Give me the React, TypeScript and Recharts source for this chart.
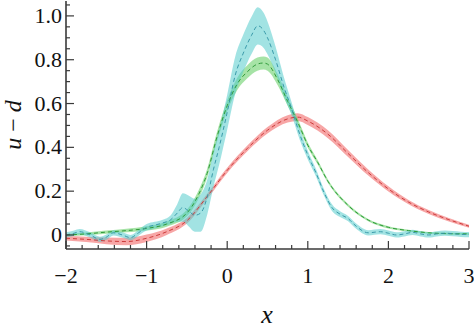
import React from "react";
import { ComposedChart, Area, Line, XAxis, YAxis, Label } from "recharts";

// ---- data ----
const redX = [-2, -1.75, -1.5, -1.25, -1, -0.75, -0.5, -0.25, 0, 0.25, 0.5, 0.75, 0.875, 1, 1.25, 1.5, 1.75, 2, 2.25, 2.5, 2.75, 3];
const redMid = [-0.015, -0.02, -0.027, -0.03, -0.015, 0.015, 0.065, 0.175, 0.295, 0.395, 0.478, 0.53, 0.538, 0.52, 0.46, 0.372, 0.285, 0.21, 0.15, 0.105, 0.07, 0.04];
const redErr = [0.01, 0.012, 0.015, 0.017, 0.017, 0.015, 0.013, 0.012, 0.012, 0.013, 0.015, 0.017, 0.018, 0.018, 0.018, 0.016, 0.014, 0.012, 0.01, 0.009, 0.008, 0.007];

const greenX = [-2, -1.75, -1.5, -1.25, -1, -0.75, -0.5, -0.375, -0.25, -0.125, 0, 0.125, 0.25, 0.375, 0.45, 0.5, 0.625, 0.75, 0.875, 1, 1.125, 1.25, 1.5, 1.75, 2, 2.25, 2.5, 2.75, 3];
const greenMid = [0, 0.005, 0.013, 0.02, 0.03, 0.05, 0.1, 0.17, 0.28, 0.45, 0.59, 0.69, 0.745, 0.78, 0.785, 0.78, 0.71, 0.61, 0.515, 0.41, 0.33, 0.245, 0.135, 0.068, 0.035, 0.02, 0.01, 0.006, 0.005];
const greenErr = [0.005, 0.006, 0.007, 0.008, 0.01, 0.012, 0.015, 0.018, 0.02, 0.022, 0.025, 0.028, 0.03, 0.03, 0.03, 0.03, 0.025, 0.02, 0.015, 0.012, 0.01, 0.008, 0.006, 0.005, 0.005, 0.004, 0.004, 0.004, 0.004];

const cyanX = [-2, -1.9, -1.83, -1.7, -1.58, -1.5, -1.41, -1.3, -1.2, -1.1, -1, -0.9, -0.8, -0.7, -0.62, -0.55, -0.48, -0.4, -0.33, -0.25, -0.17, -0.1, 0, 0.1, 0.2, 0.3, 0.38, 0.45, 0.5, 0.6, 0.7, 0.8, 0.9, 1, 1.1, 1.2, 1.3, 1.4, 1.5, 1.6, 1.75, 1.9, 2, 2.1, 2.2, 2.3, 2.4, 2.5, 2.6, 2.7, 2.8, 2.9, 3];
const cyanMid = [0, 0.008, 0.015, 0, -0.02, -0.01, 0.01, 0, -0.012, 0.01, 0.035, 0.045, 0.055, 0.07, 0.1, 0.125, 0.11, 0.09, 0.1, 0.17, 0.3, 0.4, 0.56, 0.73, 0.83, 0.91, 0.955, 0.935, 0.9, 0.8, 0.68, 0.575, 0.46, 0.365, 0.285, 0.195, 0.125, 0.095, 0.075, 0.04, 0.01, 0.015, 0.008, 0, 0.005, 0.012, 0.005, 0, 0.005, 0.008, 0.006, 0.003, 0.002];
const cyanErr = [0.012, 0.012, 0.012, 0.012, 0.012, 0.012, 0.012, 0.012, 0.012, 0.013, 0.015, 0.015, 0.015, 0.02, 0.04, 0.065, 0.07, 0.075, 0.085, 0.08, 0.08, 0.08, 0.08, 0.085, 0.085, 0.085, 0.085, 0.08, 0.075, 0.06, 0.045, 0.03, 0.025, 0.02, 0.017, 0.015, 0.015, 0.013, 0.012, 0.012, 0.012, 0.012, 0.012, 0.012, 0.012, 0.012, 0.012, 0.012, 0.012, 0.012, 0.012, 0.012, 0.012];

const xMajor = [-2, -1, 0, 1, 2, 3];
const xMinorStep = 0.2;
const yMajor = [0, 0.2, 0.4, 0.6, 0.8, 1.0];
const yMajorLabels = ["0", "0.2", "0.4", "0.6", "0.8", "1.0"];
const yMinorStep = 0.05;

// ---- build tables ----
const build = (xs: number[], mid: number[], err: number[]) =>
  xs.map((x, i) => ({ x, mid: mid[i], band: [mid[i] - err[i], mid[i] + err[i]] }));
const redData = build(redX, redMid, redErr);
const greenData = build(greenX, greenMid, greenErr);
const cyanData = build(cyanX, cyanMid, cyanErr);

const X_DOMAIN = [-2, 3];
const Y_DOMAIN = [-0.064, 1.068];

const round = (v: number) => Math.round(v * 1000) / 1000;
const xTicks: number[] = [];
for (let v = X_DOMAIN[0]; v <= X_DOMAIN[1] + 1e-9; v += xMinorStep) xTicks.push(round(v));
const yTicks: number[] = [];
for (let v = -0.05; v <= 1.05 + 1e-9; v += yMinorStep) yTicks.push(round(v));

const isMajorX = (v: number) => xMajor.some((m) => Math.abs(m - v) < 1e-6);
const majorYIndex = (v: number) => yMajor.findIndex((m) => Math.abs(m - v) < 1e-6);

const FONT = "Liberation Serif";
const AX = "#3a3a3a";
const MAJ = 8;
const MIN = 4;

const fmtX = (v: number) => (v < 0 ? "\u2212" + Math.abs(v) : String(v));

const BottomTick = (p: any) => {
  const v = p.payload.value;
  const maj = isMajorX(v);
  return (
    <g>
      <line x1={p.x} x2={p.x} y1={p.y} y2={p.y - (maj ? MAJ : MIN)} stroke={AX} strokeWidth={1.2} />
      {maj && (
        <text x={p.x} y={p.y + 34} textAnchor="middle" fontFamily={FONT} fontSize={22} fill="#111" style={{ fontFamily: FONT, fontSize: 22 }}>
          {fmtX(v)}
        </text>
      )}
    </g>
  );
};
const TopTick = (p: any) => {
  const v = p.payload.value;
  const maj = isMajorX(v);
  return <line x1={p.x} x2={p.x} y1={p.y} y2={p.y + (maj ? MAJ : MIN)} stroke={AX} strokeWidth={1.2} />;
};
const LeftTick = (p: any) => {
  const v = p.payload.value;
  const idx = majorYIndex(v);
  const maj = idx >= 0;
  return (
    <g>
      <line x1={p.x} x2={p.x + (maj ? MAJ : MIN)} y1={p.y} y2={p.y} stroke={AX} strokeWidth={1.2} />
      {maj && (
        <text x={p.x - 4} y={p.y + 7} textAnchor="end" fontFamily={FONT} fontSize={22} fill="#111" style={{ fontFamily: FONT, fontSize: 22 }}>
          {yMajorLabels[idx]}
        </text>
      )}
    </g>
  );
};
const RightTick = (p: any) => {
  const v = p.payload.value;
  const maj = majorYIndex(v) >= 0;
  return <line x1={p.x} x2={p.x - (maj ? MAJ : MIN)} y1={p.y} y2={p.y} stroke={AX} strokeWidth={1.2} />;
};

const renderYLab = () => (
  <text x={21} y={125} transform="rotate(-90 21 125)" textAnchor="middle" fill="#111" style={{ fontFamily: FONT, fontSize: 24 }}>
    <tspan style={{ fontStyle: "italic", fontFamily: FONT }}>u</tspan>
    <tspan style={{ fontFamily: FONT }}> {"\u2212"} </tspan>
    <tspan style={{ fontStyle: "italic", fontFamily: FONT }}>d</tspan>
  </text>
);
const renderXLab = () => (
  <text x={267} y={323} textAnchor="middle" fill="#111" style={{ fontFamily: FONT, fontSize: 26, fontStyle: "italic" }}>
    x
  </text>
);

const COLORS = {
  red: { fill: "#f26a6a", line: "#cc3b3b" },
  green: { fill: "#5ccc5c", line: "#2f9a3a" },
  cyan: { fill: "#55cccc", line: "#3a9aaa" },
};

export default function App() {
  const axisLine = { stroke: AX, strokeWidth: 1.6 };
  return (
    <div style={{ position: "absolute", left: 0, top: 0, width: 474, height: 329, background: "#fff", overflow: "hidden", fontFamily: FONT }}>
      <ComposedChart width={474} height={329} margin={{ top: 1, right: 5, bottom: 50, left: 8 }}>
        <XAxis
          xAxisId="b"
          dataKey="x"
          type="number"
          domain={X_DOMAIN}
          allowDataOverflow
          ticks={xTicks}
          interval={0}
          tickSize={0}
          tickMargin={0}
          tickLine={false}
          tick={<BottomTick />}
          axisLine={axisLine}
          height={30}
        >
          <Label content={renderXLab} />
        </XAxis>
        <XAxis
          xAxisId="t"
          orientation="top"
          dataKey="x"
          type="number"
          domain={X_DOMAIN}
          allowDataOverflow
          ticks={xTicks}
          interval={0}
          tickSize={0}
          tickMargin={0}
          tickLine={false}
          tick={<TopTick />}
          axisLine={axisLine}
          height={0}
        />
        <YAxis
          yAxisId="l"
          type="number"
          domain={Y_DOMAIN}
          allowDataOverflow
          ticks={yTicks}
          interval={0}
          tickSize={0}
          tickMargin={0}
          tickLine={false}
          tick={<LeftTick />}
          axisLine={axisLine}
          width={58}
        >
          <Label content={renderYLab} />
        </YAxis>
        <YAxis
          yAxisId="r"
          orientation="right"
          type="number"
          domain={Y_DOMAIN}
          allowDataOverflow
          ticks={yTicks}
          interval={0}
          tickSize={0}
          tickMargin={0}
          tickLine={false}
          tick={<RightTick />}
          axisLine={axisLine}
          width={0}
        />
        <Area xAxisId="b" yAxisId="l" data={redData} dataKey="band" type="monotone" stroke="none" fill={COLORS.red.fill} fillOpacity={0.6} isAnimationActive={false} />
        <Area xAxisId="b" yAxisId="l" data={greenData} dataKey="band" type="monotone" stroke="none" fill={COLORS.green.fill} fillOpacity={0.55} isAnimationActive={false} />
        <Area xAxisId="b" yAxisId="l" data={cyanData} dataKey="band" type="monotone" stroke="none" fill={COLORS.cyan.fill} fillOpacity={0.55} isAnimationActive={false} />
        <Line xAxisId="b" yAxisId="l" data={redData} dataKey="mid" type="monotone" stroke={COLORS.red.line} strokeWidth={1} strokeDasharray="4 3" dot={false} isAnimationActive={false} />
        <Line xAxisId="b" yAxisId="l" data={greenData} dataKey="mid" type="monotone" stroke={COLORS.green.line} strokeWidth={1} strokeDasharray="4 3" dot={false} isAnimationActive={false} />
        <Line xAxisId="b" yAxisId="l" data={cyanData} dataKey="mid" type="monotone" stroke={COLORS.cyan.line} strokeWidth={1} strokeDasharray="4 3" dot={false} isAnimationActive={false} />
      </ComposedChart>
    </div>
  );
}
